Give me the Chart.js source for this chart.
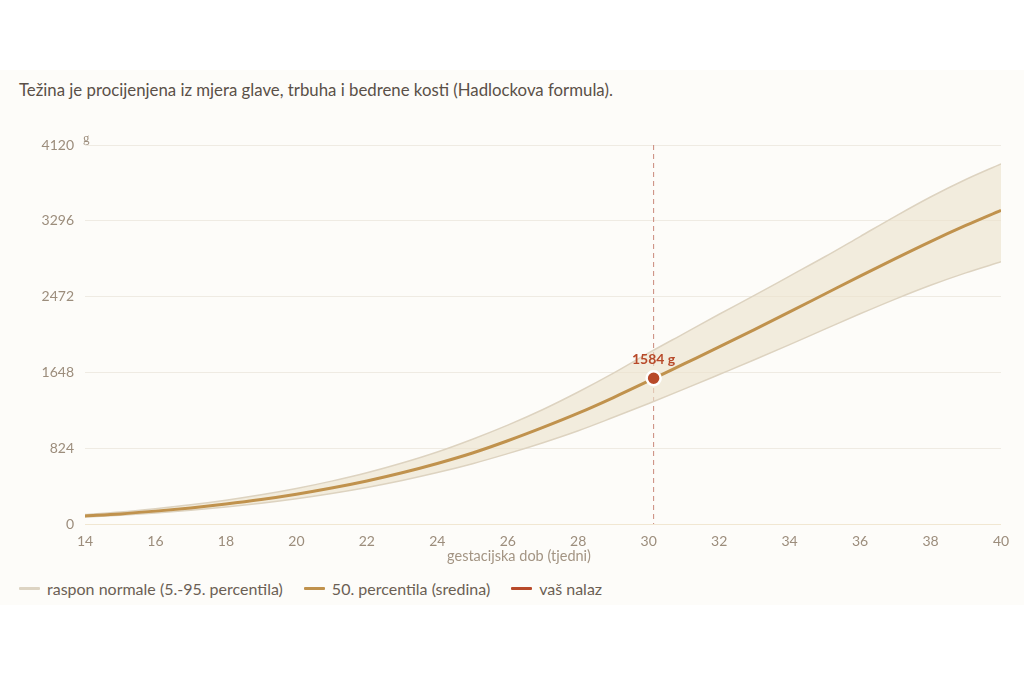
<!DOCTYPE html>
<html lang="hr">
<head>
<meta charset="utf-8">
<title>Procijenjena težina ploda</title>
<script src="https://cdn.jsdelivr.net/npm/chart.js@4.4.1/dist/chart.umd.min.js"></script>
<style>
    html, body {
        margin: 0;
        padding: 0;
        background: #ffffff;
        width: 1024px;
        height: 682px;
        overflow: hidden;
        font-family: Lato, "Noto Sans", sans-serif;
    }
    #panel {
        position: absolute;
        left: 0;
        top: 70px;
        width: 1024px;
        height: 535px;
        background: #fdfcf9;
    }
    #podnaslov {
        position: absolute;
        left: 19px;
        top: 79px;
        font-size: 16.8px;
        line-height: 22px;
        color: #5a5048;
    }
    #chartWrap {
        position: absolute;
        left: 0;
        top: 125px;
        width: 1024px;
        height: 440px;
    }
    #legenda {
        position: absolute;
        left: 19px;
        top: 577px;
        height: 22px;
        display: flex;
        align-items: center;
        font-size: 16px;
        color: #6b5f54;
    }
    .stavka {
        display: flex;
        align-items: center;
        margin-right: 21px;
    }
    .crta {
        display: inline-block;
        width: 21px;
        height: 3px;
        margin-right: 7px;
        border-radius: 1px;
    }
</style>
</head>
<body>
<div id="panel"></div>
<div id="podnaslov">Težina je procijenjena iz mjera glave, trbuha i bedrene kosti (Hadlockova formula).</div>
<div id="chartWrap"><canvas id="myChart"></canvas></div>
<div id="legenda">
    <span class="stavka"><span class="crta" style="background:#ddd4c3"></span>raspon normale (5.-95. percentila)</span>
    <span class="stavka"><span class="crta" style="background:#c0924d"></span>50. percentila (sredina)</span>
    <span class="stavka"><span class="crta" style="background:#b84a2a"></span>vaš nalaz</span>
</div>

<script>
// gestacijska dob u tjednima
const tjedni = [14, 15, 16, 17, 18, 19, 20, 21, 22, 23, 24, 25, 26, 27, 28, 29, 30, 31, 32, 33, 34, 35, 36, 37, 38, 39, 40];

// percentile težine (g), očitano s grafa
const p5 = [75, 94, 119, 149, 184, 226, 275, 332, 398, 473, 559, 656, 765, 884, 1014, 1160, 1310, 1466, 1625, 1785, 1950, 2118, 2285, 2445, 2595, 2730, 2850];
const p50 = [88, 110, 140, 175, 217, 266, 324, 391, 468, 557, 658, 772, 905, 1050, 1205, 1375, 1555, 1740, 1925, 2113, 2305, 2500, 2695, 2885, 3070, 3245, 3410];
const p95 = [104, 131, 167, 208, 258, 317, 386, 466, 557, 663, 783, 922, 1075, 1245, 1435, 1640, 1860, 2070, 2280, 2485, 2695, 2905, 3125, 3345, 3555, 3745, 3915];

// nalaz pacijentice
const nalazTjedan = 30.14;
const nalazTezina = 1584;

// oznake osi y
const yTicks = [0, 824, 1648, 2472, 3296, 4120];

function parovi(xs, ys) {
    return xs.map(function(x, i) { return { x: x, y: ys[i] }; });
}

// crtkana linija, oznaka nalaza, jedinica i naslov osi
const dodaci = {
    id: 'dodaci',
    beforeDatasetsDraw: function(chart) {
        let ctx = chart.ctx;
        let area = chart.chartArea;
        let x = chart.scales.x.getPixelForValue(nalazTjedan);
        ctx.save();
        ctx.strokeStyle = '#c9887b';
        ctx.lineWidth = 1;
        ctx.setLineDash([5, 4]);
        ctx.beginPath();
        ctx.moveTo(x, area.top);
        ctx.lineTo(x, area.bottom);
        ctx.stroke();
        ctx.restore();
    },
    afterDraw: function(chart) {
        let ctx = chart.ctx;
        let area = chart.chartArea;
        let x = chart.scales.x.getPixelForValue(nalazTjedan);
        let y = chart.scales.y.getPixelForValue(nalazTezina);
        ctx.save();
        ctx.fillStyle = '#b84a2a';
        ctx.font = 'bold 14px Lato, sans-serif';
        ctx.textAlign = 'center';
        ctx.textBaseline = 'middle';
        ctx.fillText(nalazTezina + ' g', x, y - 19);

        ctx.fillStyle = '#9c8d7c';
        ctx.font = '13px "Liberation Serif", serif';
        ctx.textAlign = 'left';
        ctx.fillText('g', area.left - 2, area.top - 6);

        ctx.font = '14.5px Lato, sans-serif';
        ctx.fillStyle = '#a39483';
        ctx.textAlign = 'center';
        ctx.fillText('gestacijska dob (tjedni)', 519, area.bottom + 32);
        ctx.restore();
    }
};

function createChart(chartId) {
    let ctx = document.getElementById(chartId).getContext('2d');
    return new Chart(ctx, {
        type: 'line',
        data: {
            datasets: [{
                label: 'p5',
                data: parovi(tjedni, p5),
                borderColor: '#ddd3c0',
                borderWidth: 1.5,
                pointRadius: 0,
                fill: false,
                cubicInterpolationMode: 'monotone',
                order: 3
            }, {
                label: 'p95',
                data: parovi(tjedni, p95),
                borderColor: '#ddd3c0',
                borderWidth: 1.5,
                backgroundColor: 'rgba(236, 226, 204, 0.62)',
                pointRadius: 0,
                fill: '-1',
                cubicInterpolationMode: 'monotone',
                order: 4
            }, {
                label: 'p50',
                data: parovi(tjedni, p50),
                borderColor: '#c0924d',
                borderWidth: 3,
                pointRadius: 0,
                fill: false,
                cubicInterpolationMode: 'monotone',
                order: 1
            }, {
                label: 'nalaz',
                data: [{ x: nalazTjedan, y: nalazTezina }],
                pointRadius: 7,
                pointBackgroundColor: '#b84a2a',
                pointBorderColor: '#ffffff',
                pointBorderWidth: 2.5,
                showLine: false,
                order: 0
            }]
        },
        options: {
            responsive: true,
            maintainAspectRatio: false,
            animation: false,
            layout: {
                padding: { top: 20, right: 23, left: 0, bottom: 0 }
            },
            plugins: {
                legend: { display: false },
                tooltip: { enabled: false }
            },
            scales: {
                x: {
                    type: 'linear',
                    min: 14,
                    max: 40,
                    grid: { display: false, drawTicks: false },
                    border: { display: false },
                    ticks: {
                        stepSize: 2,
                        padding: 9,
                        color: '#9c8d7c',
                        font: { family: 'Lato', size: 14 }
                    },
                    afterFit: function(scale) { scale.height = 41; }
                },
                y: {
                    min: 0,
                    max: 4120,
                    afterBuildTicks: function(scale) {
                        scale.ticks = yTicks.map(function(v) { return { value: v }; });
                    },
                    grid: {
                        drawTicks: false,
                        color: function(c) {
                            return c.tick && c.tick.value === 0 ? '#f1e7d2' : '#efebe3';
                        }
                    },
                    border: { display: false },
                    ticks: {
                        padding: 11,
                        color: '#9c8d7c',
                        font: { family: 'Lato', size: 14 },
                        callback: function(v) { return String(v); }
                    },
                    afterFit: function(scale) { scale.width = 85; }
                }
            }
        },
        plugins: [dodaci]
    });
}

createChart('myChart');
</script>
</body>
</html>
